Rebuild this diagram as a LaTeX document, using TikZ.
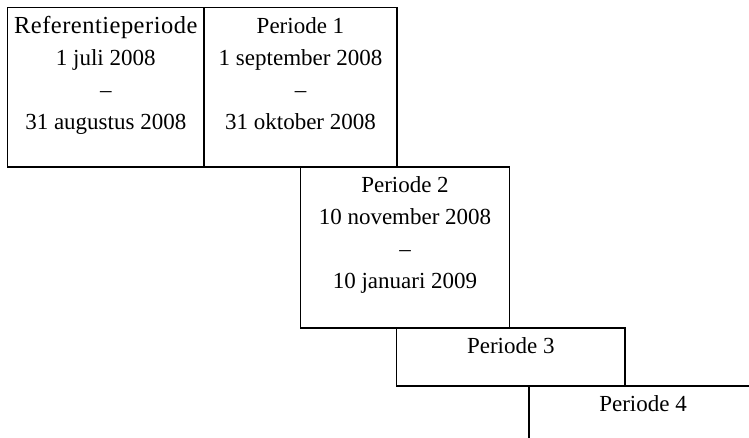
\documentclass[tikz,border=0pt]{standalone}
\usepackage{fontspec}
\setmainfont{Liberation Serif}
\begin{document}
\begin{tikzpicture}[x=1pt,y=-1pt,
  box/.style={draw, line width=1.1pt, inner sep=0pt, outer sep=0pt, anchor=north west},
  lbl/.style={anchor=north, align=center, inner sep=0pt, font=\fontsize{23}{32}\selectfont}]
\useasboundingbox (0,0) rectangle (749,438);
\node[box, minimum width=196.5pt, minimum height=159.5pt] (ref) at (7.5,7.5) {};
\node[box, minimum width=193pt, minimum height=159.5pt] (p1) at (204,7.5) {};
\node[box, minimum width=209pt, minimum height=161pt] (p2) at (300.5,167) {};
\node[box, minimum width=228.5pt, minimum height=58pt] (p3) at (396.5,328) {};
\coordinate (p4a) at (529,438);
\coordinate (p4b) at (529,386);
\coordinate (p4c) at (749,386);
\draw[line width=1.1pt] (p4a) -- (p4b) -- (p4c);
\node[lbl] (tref) at ([yshift=-3.1pt]ref.north) {\strut{\fontsize{24.5}{32}\selectfont\addfontfeature{LetterSpace=2}Referentieperiode}\\1 juli 2008\\–\\31 augustus 2008};
\node[lbl] (tp1) at ([yshift=-3.1pt]p1.north) {\strut Periode 1\\1 september 2008\\–\\31 oktober 2008};
\node[lbl] (tp2) at ([yshift=-3.1pt]p2.north) {\strut Periode 2\\10 november 2008\\–\\10 januari 2009};
\node[lbl] (tp3) at ([yshift=-3.1pt]p3.north) {\strut Periode 3};
\node[lbl] (tp4) at (643,389.1) {\strut Periode 4};
\end{tikzpicture}
\end{document}
